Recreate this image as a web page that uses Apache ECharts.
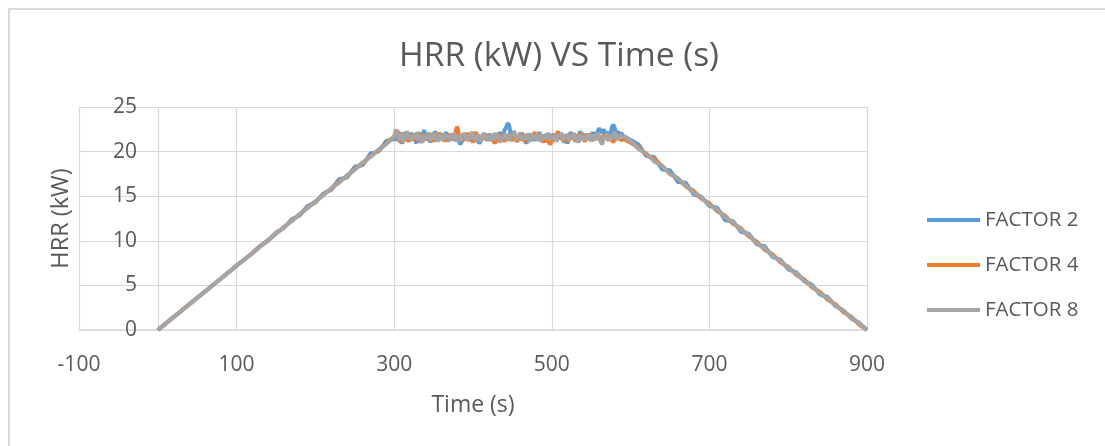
<!DOCTYPE html>
<html>
<head>
<meta charset="utf-8">
<script src="https://cdn.jsdelivr.net/npm/echarts@6/dist/echarts.min.js"></script>
<style>
html,body{margin:0;padding:0;background:#fff;}
#chart{width:1105px;height:446px;}
</style>
</head>
<body>
<div id="chart"></div>
<script>
const chartTitle = 'HRR (kW) VS Time (s)';
const xName = 'Time (s)';
const yName = 'HRR (kW)';
const seriesNames = ['FACTOR 2', 'FACTOR 4', 'FACTOR 8'];
const xTicks = [-100, 100, 300, 500, 700, 900];
const yTicks = [0, 5, 10, 15, 20, 25];

// time stamps (s): growth, steady, decay
const timesGrowth = [0,10,20,30,40,50,60,70,80,90,100,110,120,130,140,150,160,170,180,190,200,210,220,230,240,250,260,270,280,290,300];
const timesSteady = [
  302,304,306,308,310,312,314,316,318,320,
  322,324,326,328,330,332,334,336,338,340,
  342,344,346,348,350,352,354,356,358,360,
  362,364,366,368,370,372,374,376,378,380,
  382,384,386,388,390,392,394,396,398,400,
  402,404,406,408,410,412,414,416,418,420,
  422,424,426,428,430,432,434,436,438,440,
  442,444,446,448,450,452,454,456,458,460,
  462,464,466,468,470,472,474,476,478,480,
  482,484,486,488,490,492,494,496,498,500,
  502,504,506,508,510,512,514,516,518,520,
  522,524,526,528,530,532,534,536,538,540,
  542,544,546,548,550,552,554,556,558,560,
  562,564,566,568,570,572,574,576,578,580,
  582,584,586,588,590
];
const timesDecay = [600,610,620,630,640,650,660,670,680,690,700,710,720,730,740,750,760,770,780,790,800,810,820,830,840,850,860,870,880,890,900];

// FACTOR 2 (kW)
const f2Growth = [0,0.72,1.45,2.15,2.9,3.6,4.3,5.05,5.75,6.5,7.25,7.9,8.6,9.45,10.0,10.9,11.45,12.4,12.85,13.9,14.3,15.3,15.7,16.9,17.1,18.3,18.5,19.8,20.0,21.2,21.4];
const f2Steady = [
  21.8,21.2,22.2,21.5,20.9,22.0,21.4,22.3,21.1,21.7,
  22.1,21.3,21.8,20.9,22.2,21.5,21.0,21.9,22.4,21.3,
  21.7,22.1,21.0,21.8,21.4,22.3,21.2,21.9,21.5,22.0,
  21.4,21.8,22.2,21.1,21.7,21.3,22.0,21.6,21.2,21.9,
  21.3,20.8,20.6,21.5,22.1,21.4,21.9,21.2,21.7,22.2,
  21.1,21.8,21.4,20.9,20.7,21.6,22.1,21.3,21.9,21.5,
  22.0,21.2,21.7,21.0,20.8,21.6,22.2,21.4,21.8,22.4,
  22.7,23.2,22.9,21.8,21.3,22.3,21.6,21.1,21.9,21.4,
  22.1,21.5,21.2,20.9,21.7,22.0,21.4,21.8,21.2,21.9,
  21.4,22.2,21.6,21.1,21.9,21.5,22.0,21.3,21.7,21.1,
  22.0,21.6,21.2,21.9,21.4,22.1,21.5,21.0,21.7,20.9,
  21.6,22.2,21.4,21.8,21.1,21.9,21.5,22.3,21.3,21.8,
  21.5,22.0,21.3,21.9,21.6,22.2,21.4,21.8,22.0,22.6,
  22.8,22.1,22.5,21.7,21.9,22.2,21.6,22.7,23.0,22.6,
  21.9,22.3,21.7,22.1,21.8
];
const f2Decay = [21.3,20.8,19.5,19.4,18.0,17.9,16.6,16.5,15.2,14.9,13.9,13.7,12.3,12.2,11.0,10.8,9.6,9.4,8.2,7.9,6.8,6.5,5.5,5.1,4.0,3.7,2.7,2.2,1.3,0.8,0];

// FACTOR 4 (kW)
const f4Growth = [0,0.72,1.44,2.17,2.88,3.6,4.32,5.04,5.77,6.48,7.2,7.93,8.62,9.38,10.05,10.85,11.5,12.3,12.9,13.75,14.35,15.2,15.8,16.65,17.2,18.1,18.65,19.5,20.1,20.95,21.7];
const f4Steady = [
  22.0,22.4,21.6,21.0,21.8,22.1,21.3,21.7,21.1,21.9,
  21.5,22.0,21.2,21.8,21.4,22.1,21.0,21.6,21.9,21.3,
  21.8,21.2,22.0,21.5,21.1,21.9,21.4,21.7,22.1,21.3,
  21.7,21.1,21.9,21.5,22.0,21.3,21.8,21.4,22.3,22.8,
  21.9,21.4,21.7,21.2,21.9,21.5,22.1,21.3,21.6,21.0,
  21.8,22.2,21.4,21.7,21.1,21.9,21.5,22.0,21.2,21.7,
  21.4,21.9,21.2,20.9,21.6,22.0,21.3,21.8,21.5,21.1,
  21.8,21.4,22.0,21.6,21.2,21.9,21.5,21.1,21.7,22.1,
  21.4,21.8,21.1,21.6,22.0,21.3,21.9,21.5,22.2,21.4,
  21.7,21.2,21.9,21.5,21.0,21.8,21.3,21.1,20.8,20.6,
  21.5,22.0,21.7,22.3,21.4,21.8,21.2,21.9,21.5,21.1,
  21.8,21.4,22.0,21.6,21.2,21.9,21.3,21.7,22.1,21.5,
  21.1,21.8,21.4,22.0,21.6,21.2,21.9,21.5,21.3,21.8,
  21.5,21.1,21.9,21.4,21.7,21.2,21.8,21.5,21.0,21.6,
  21.9,21.4,21.7,21.2,21.5
];
const f4Decay = [21.0,20.5,19.6,19.2,18.4,17.5,17.0,16.1,15.6,14.7,14.2,13.3,12.8,11.9,11.4,10.5,9.9,9.0,8.5,7.6,7.1,6.2,5.7,4.8,4.3,3.4,2.9,2.0,1.5,0.6,0];

// FACTOR 8 (kW)
const f8Growth = [0,0.72,1.44,2.16,2.88,3.6,4.32,5.04,5.76,6.48,7.2,7.92,8.64,9.36,10.1,10.78,11.55,12.2,13.0,13.65,14.42,15.1,15.9,16.5,17.35,17.95,18.8,19.4,20.2,20.85,21.65];
const f8Steady = [
  22.5,21.9,21.3,22.0,21.6,21.1,21.8,22.2,21.4,21.7,
  21.2,21.9,21.5,22.1,21.3,21.8,21.6,21.0,21.9,21.4,
  22.0,21.5,21.2,21.8,22.1,21.4,21.7,21.1,21.9,21.6,
  21.3,22.0,21.5,21.8,21.2,21.9,21.4,22.1,21.6,21.3,
  21.8,21.1,21.7,22.0,21.4,21.9,21.2,21.6,22.2,21.5,
  21.8,21.3,21.9,21.5,21.1,21.7,22.0,21.4,21.8,21.2,
  21.9,21.6,21.3,22.1,21.5,21.8,21.0,21.7,21.4,22.0,
  21.5,21.9,21.2,21.8,21.6,22.1,21.3,21.7,21.5,21.9,
  21.2,21.8,21.4,22.0,21.6,21.1,21.9,21.5,21.8,21.3,
  22.0,21.6,21.2,21.9,21.4,21.8,21.5,22.1,21.3,21.7,
  21.4,21.9,21.1,21.8,21.6,22.0,21.3,21.7,21.5,21.9,
  21.2,21.8,21.5,22.1,21.4,21.7,21.0,21.9,21.6,21.3,
  21.8,21.4,22.0,21.5,21.2,21.9,21.6,21.3,22.1,21.5,
  21.1,20.8,21.7,21.4,22.0,21.6,21.3,21.9,21.5,22.2,
  21.6,21.3,21.9,21.5,21.8
];
const f8Decay = [21.2,20.3,19.8,18.9,18.4,17.5,17.0,16.2,15.4,14.9,14.0,13.5,12.6,12.1,11.2,10.7,9.7,9.2,8.3,7.8,6.9,6.4,5.5,5.0,4.1,3.6,2.7,2.2,1.3,0.8,0];

const times = timesGrowth.concat(timesSteady, timesDecay);
const allValues = [
  f2Growth.concat(f2Steady, f2Decay),
  f4Growth.concat(f4Steady, f4Decay),
  f8Growth.concat(f8Steady, f8Decay)
];

const colors = ['#5B9BD5', '#ED7D31', '#A5A5A5'];
const FONT = '"Open Sans", sans-serif';
const TXT = '#595959';

const chart = echarts.init(document.getElementById('chart'), null, {renderer: 'canvas'});
chart.setOption({
  animation: false,
  backgroundColor: '#ffffff',
  color: colors,
  title: {
    text: chartTitle,
    left: 554, top: 34, textAlign: 'center',
    textStyle: {fontFamily: FONT, fontSize: 33.5, fontWeight: 'normal', color: TXT}
  },
  graphic: [{
    type: 'rect', shape: {x: 9, y: 9, width: 1200, height: 600},
    style: {fill: 'none', stroke: '#d9d9d9', lineWidth: 2}, silent: true
  }],
  grid: {left: 79, top: 107, width: 788, height: 223, containLabel: false, outerBoundsMode: 'none'},
  legend: {
    orient: 'vertical', left: 922, top: 204, itemGap: 23,
    icon: 'rect', itemWidth: 53, itemHeight: 4,
    textStyle: {fontFamily: FONT, fontSize: 20.5, color: TXT, lineHeight: 22},
    data: seriesNames
  },
  xAxis: {
    type: 'value', min: xTicks[0], max: xTicks[xTicks.length - 1], interval: xTicks[1] - xTicks[0],
    name: xName, nameLocation: 'middle', nameGap: 64,
    nameTextStyle: {fontFamily: FONT, fontSize: 23, color: TXT},
    axisLine: {show: true, onZero: false, lineStyle: {color: '#d9d9d9', width: 1.5}},
    axisTick: {show: false},
    axisLabel: {fontFamily: FONT, fontSize: 21, color: TXT, margin: 25},
    splitLine: {show: true, lineStyle: {color: '#d9d9d9', width: 1.2}}
  },
  yAxis: {
    type: 'value', min: yTicks[0], max: yTicks[yTicks.length - 1], interval: yTicks[1] - yTicks[0],
    name: yName, nameLocation: 'middle', nameGap: 6, nameRotate: 90,
    nameTextStyle: {fontFamily: FONT, fontSize: 23.5, color: TXT},
    axisLine: {show: true, onZero: true, lineStyle: {color: '#d9d9d9', width: 1.2}},
    axisTick: {show: false},
    axisLabel: {fontFamily: FONT, fontSize: 21, color: TXT, margin: -58},
    splitLine: {show: true, lineStyle: {color: '#d9d9d9', width: 1.2}}
  },
  series: seriesNames.map((name, k) => ({
    name: name, type: 'line', showSymbol: false, symbol: 'none',
    lineStyle: {width: 4, color: colors[k]},
    itemStyle: {color: colors[k]},
    data: times.map((t, i) => [t, allValues[k][i]])
  }))
});
</script>
</body>
</html>
